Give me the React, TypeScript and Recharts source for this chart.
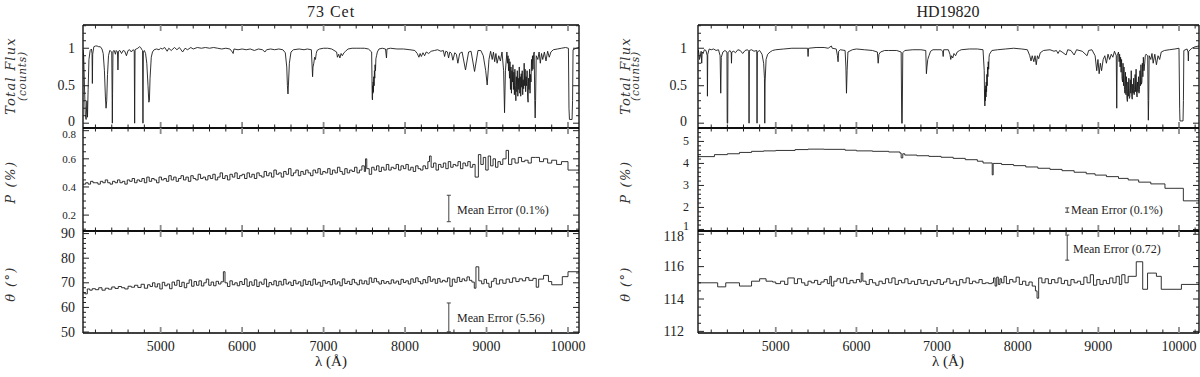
import { LineChart, Line, XAxis, YAxis, ReferenceLine } from "recharts";

type Pt = [number, number];

// ---- 73 Cet ----
const fluxCet: Pt[] = [
  [4047, 0.98], [4055, 0.9], [4065, 0.5], [4075, 0.12], [4085, 0.05], [4095, 0.3], [4102, 0.08], [4110, 0.45],
  [4120, 0.85], [4135, 0.97], [4150, 0.99], [4158, 0.93], [4162, 0.53], [4166, 0.92], [4180, 1.02], [4200, 1.03],
  [4220, 1.03], [4240, 1.02], [4260, 1.02], [4280, 0.99], [4295, 0.93], [4310, 0.7], [4322, 0.35], [4330, 0.2],
  [4338, 0.3], [4348, 0.65], [4360, 0.9], [4375, 0.97], [4390, 0.96], [4400, 0.95], [4405, 0.3], [4407, 0.0],
  [4410, 0.4], [4415, 0.96], [4430, 0.97], [4445, 0.92], [4455, 0.97], [4470, 0.95], [4476, 0.71], [4482, 0.96],
  [4500, 0.97], [4520, 0.93], [4540, 0.97], [4560, 0.96], [4580, 0.9], [4600, 0.97], [4620, 0.98], [4640, 0.95],
  [4660, 0.98], [4676, 0.97], [4681, 0.0], [4686, 0.98], [4700, 0.99], [4720, 1.0], [4740, 1.02], [4755, 1.01],
  [4770, 0.98], [4778, 0.97], [4783, 0.0], [4788, 0.95], [4800, 0.97], [4815, 0.93], [4830, 0.8], [4845, 0.5],
  [4855, 0.28], [4862, 0.3], [4870, 0.6], [4885, 0.88], [4900, 0.95], [4920, 0.98], [4950, 0.99], [4980, 0.98],
  [5000, 1.0], [5020, 0.99], [5050, 1.01], [5080, 0.96], [5100, 1.0], [5130, 0.97], [5170, 1.01], [5200, 0.98],
  [5230, 1.01], [5270, 0.95], [5300, 1.0], [5330, 0.98], [5370, 1.01], [5400, 0.99], [5450, 1.01], [5500, 1.0],
  [5550, 1.01], [5600, 1.0], [5650, 1.01], [5700, 1.0], [5750, 0.99], [5800, 1.0], [5850, 0.99], [5880, 0.95],
  [5890, 0.93], [5900, 0.99], [5950, 0.98], [6000, 0.99], [6050, 0.98], [6100, 0.99], [6150, 0.97], [6200, 0.99],
  [6250, 0.98], [6280, 0.95], [6300, 0.98], [6350, 0.99], [6400, 0.98], [6450, 0.99], [6500, 0.98], [6530, 0.94],
  [6548, 0.75], [6556, 0.5], [6563, 0.39], [6570, 0.55], [6580, 0.8], [6600, 0.95], [6630, 0.98], [6700, 0.99],
  [6760, 0.98], [6800, 0.99], [6850, 0.98], [6865, 0.62], [6870, 0.75], [6880, 0.8], [6890, 0.88], [6900, 0.85],
  [6910, 0.93], [6920, 0.97], [6950, 0.99], [7000, 1.0], [7050, 1.0], [7100, 0.99], [7160, 0.95], [7170, 0.88],
  [7185, 0.92], [7200, 0.87], [7215, 0.93], [7230, 0.9], [7250, 0.94], [7270, 0.96], [7300, 0.99], [7350, 1.0],
  [7400, 1.0], [7450, 1.0], [7500, 1.0], [7550, 0.99], [7590, 0.95], [7594, 0.6], [7597, 0.33], [7600, 0.31],
  [7603, 0.5], [7606, 0.4], [7609, 0.55], [7612, 0.42], [7616, 0.62], [7620, 0.5], [7624, 0.7], [7628, 0.6],
  [7632, 0.78], [7637, 0.7], [7642, 0.86], [7650, 0.9], [7660, 0.95], [7680, 0.99], [7720, 1.0], [7760, 0.99],
  [7772, 0.87], [7778, 0.99], [7820, 1.0], [7900, 0.99], [7980, 0.99], [8060, 0.98], [8120, 0.97], [8150, 0.93],
  [8170, 0.88], [8185, 0.93], [8200, 0.89], [8220, 0.94], [8240, 0.9], [8260, 0.95], [8290, 0.93], [8320, 0.96],
  [8360, 0.97], [8400, 0.98], [8440, 0.96], [8470, 0.97], [8485, 0.89], [8500, 0.96], [8520, 0.95], [8534, 0.87],
  [8550, 0.95], [8570, 0.93], [8587, 0.84], [8610, 0.94], [8630, 0.92], [8648, 0.8], [8670, 0.93], [8700, 0.95],
  [8742, 0.71], [8780, 0.95], [8810, 0.96], [8853, 0.69], [8895, 0.97], [8930, 0.97], [8960, 0.9], [8990, 0.7],
  [9008, 0.51], [9030, 0.85], [9050, 0.96], [9070, 0.85], [9085, 0.95], [9100, 0.82], [9115, 0.93], [9130, 0.8],
  [9150, 0.9], [9170, 0.83], [9190, 0.95], [9210, 0.7], [9221, 0.14], [9232, 0.7], [9250, 0.95], [9258, 0.8],
  [9264, 0.9], [9270, 0.7], [9276, 0.86], [9282, 0.6], [9288, 0.82], [9294, 0.45], [9300, 0.75], [9306, 0.4],
  [9312, 0.7], [9318, 0.55], [9324, 0.78], [9330, 0.45], [9336, 0.68], [9342, 0.38], [9348, 0.72], [9354, 0.5],
  [9360, 0.3], [9366, 0.62], [9372, 0.42], [9378, 0.7], [9384, 0.36], [9390, 0.6], [9396, 0.45], [9402, 0.75],
  [9408, 0.4], [9414, 0.62], [9420, 0.36], [9426, 0.66], [9432, 0.48], [9438, 0.7], [9444, 0.38], [9450, 0.58],
  [9456, 0.46], [9462, 0.8], [9468, 0.5], [9474, 0.72], [9480, 0.42], [9486, 0.62], [9492, 0.5], [9498, 0.7],
  [9504, 0.35], [9510, 0.28], [9516, 0.6], [9522, 0.45], [9528, 0.72], [9534, 0.4], [9540, 0.65], [9546, 0.55],
  [9552, 0.85], [9558, 0.7], [9564, 0.9], [9570, 0.72], [9578, 0.92], [9585, 0.95], [9592, 0.3], [9597, 0.07],
  [9602, 0.3], [9610, 0.9], [9630, 0.85], [9645, 0.95], [9660, 0.8], [9675, 0.93], [9690, 0.85], [9710, 0.95],
  [9730, 0.83], [9750, 0.96], [9770, 0.88], [9790, 0.95], [9820, 0.98], [9870, 0.99], [9920, 1.0], [9970, 1.01],
  [10005, 1.0], [10012, 0.2], [10018, 0.05], [10050, 0.05], [10056, 0.3], [10062, 0.98], [10100, 1.0], [10135, 1.01],
];

const polCet: Pt[] = [
  [4047, 0.42], [4080, 0.43], [4110, 0.42], [4140, 0.44], [4170, 0.43], [4200, 0.43], [4230, 0.42], [4260, 0.44],
  [4290, 0.43], [4320, 0.45], [4350, 0.43], [4380, 0.42], [4410, 0.44], [4440, 0.43], [4470, 0.45], [4500, 0.43],
  [4530, 0.44], [4560, 0.42], [4590, 0.45], [4620, 0.44], [4650, 0.46], [4680, 0.43], [4710, 0.45], [4740, 0.44],
  [4770, 0.46], [4800, 0.43], [4830, 0.47], [4860, 0.44], [4890, 0.46], [4920, 0.45], [4950, 0.43], [4980, 0.47],
  [5010, 0.45], [5040, 0.46], [5070, 0.44], [5100, 0.48], [5130, 0.45], [5160, 0.47], [5190, 0.44], [5220, 0.46],
  [5250, 0.48], [5280, 0.45], [5310, 0.47], [5340, 0.44], [5370, 0.48], [5400, 0.46], [5430, 0.45], [5460, 0.49],
  [5490, 0.46], [5520, 0.47], [5550, 0.45], [5580, 0.48], [5610, 0.46], [5640, 0.49], [5670, 0.45], [5700, 0.47],
  [5730, 0.5], [5760, 0.46], [5790, 0.48], [5820, 0.45], [5850, 0.49], [5880, 0.47], [5910, 0.5], [5940, 0.46],
  [5970, 0.48], [6000, 0.49], [6030, 0.46], [6060, 0.5], [6090, 0.47], [6120, 0.49], [6150, 0.46], [6180, 0.5],
  [6210, 0.48], [6240, 0.47], [6270, 0.51], [6300, 0.48], [6330, 0.5], [6360, 0.47], [6390, 0.52], [6420, 0.49],
  [6450, 0.5], [6480, 0.47], [6510, 0.51], [6540, 0.49], [6570, 0.53], [6600, 0.48], [6630, 0.5], [6660, 0.52],
  [6690, 0.48], [6720, 0.51], [6750, 0.49], [6780, 0.52], [6810, 0.5], [6840, 0.48], [6870, 0.52], [6900, 0.5],
  [6930, 0.53], [6960, 0.49], [6990, 0.51], [7020, 0.5], [7050, 0.53], [7080, 0.49], [7110, 0.52], [7140, 0.5],
  [7170, 0.54], [7200, 0.51], [7230, 0.49], [7260, 0.53], [7290, 0.5], [7320, 0.52], [7350, 0.51], [7380, 0.54],
  [7410, 0.5], [7440, 0.52], [7470, 0.55], [7500, 0.51], [7515, 0.6], [7530, 0.53], [7560, 0.49], [7590, 0.54],
  [7620, 0.52], [7650, 0.55], [7680, 0.51], [7710, 0.54], [7740, 0.52], [7770, 0.56], [7800, 0.52], [7830, 0.54],
  [7860, 0.53], [7890, 0.56], [7920, 0.52], [7950, 0.55], [7980, 0.53], [8010, 0.56], [8040, 0.52], [8070, 0.54],
  [8100, 0.51], [8130, 0.55], [8160, 0.53], [8190, 0.52], [8220, 0.55], [8250, 0.53], [8280, 0.58], [8300, 0.62],
  [8320, 0.54], [8350, 0.57], [8380, 0.52], [8410, 0.56], [8440, 0.54], [8470, 0.57], [8500, 0.53], [8530, 0.58],
  [8560, 0.54], [8590, 0.56], [8620, 0.55], [8650, 0.58], [8680, 0.53], [8710, 0.57], [8740, 0.55], [8770, 0.58],
  [8800, 0.54], [8830, 0.56], [8860, 0.47], [8900, 0.63], [8930, 0.56], [8960, 0.61], [8990, 0.52], [9020, 0.62],
  [9050, 0.55], [9080, 0.6], [9110, 0.54], [9140, 0.58], [9170, 0.56], [9200, 0.6], [9240, 0.66], [9270, 0.56],
  [9310, 0.6], [9350, 0.57], [9390, 0.61], [9430, 0.58], [9470, 0.59], [9510, 0.57], [9550, 0.61], [9600, 0.61],
  [9650, 0.58], [9700, 0.6], [9750, 0.57], [9800, 0.59], [9860, 0.56], [9920, 0.58], [10000, 0.52], [10135, 0.52],
];

const angCet: Pt[] = [
  [4047, 66], [4070, 65.5], [4100, 67.5], [4130, 67], [4160, 67.6], [4200, 67.2], [4240, 68], [4280, 67],
  [4320, 67.8], [4360, 67.4], [4400, 68.3], [4440, 67.7], [4480, 68.5], [4520, 68], [4560, 67.5], [4600, 68.6],
  [4640, 68.2], [4680, 69], [4720, 68.1], [4760, 69.4], [4800, 67.8], [4840, 69.2], [4870, 68.5], [4900, 70],
  [4930, 68.3], [4960, 69.6], [4990, 67.5], [5020, 70.2], [5050, 68.8], [5080, 69.5], [5110, 67.6], [5140, 70.3],
  [5170, 69], [5200, 71], [5230, 68.5], [5260, 70.2], [5290, 68], [5320, 69.8], [5350, 71.2], [5380, 68.6],
  [5410, 70.5], [5440, 69], [5470, 70.8], [5500, 68.7], [5530, 70], [5560, 71.5], [5590, 69], [5620, 70.3],
  [5650, 68.8], [5680, 70.6], [5710, 69.5], [5740, 70.4], [5770, 74.5], [5790, 70], [5820, 68.5], [5850, 70.8],
  [5880, 69.2], [5910, 70], [5940, 68.8], [5970, 70.5], [6000, 69.3], [6030, 71.6], [6060, 68.6], [6090, 70.4],
  [6120, 69], [6150, 71.2], [6180, 68.5], [6210, 70.3], [6240, 69.4], [6270, 71.5], [6300, 68.4], [6330, 70.1],
  [6360, 69.2], [6390, 70.8], [6420, 68.8], [6450, 70.6], [6480, 69.1], [6510, 71.4], [6540, 69.5], [6570, 70.3],
  [6600, 68.9], [6630, 71], [6660, 69.6], [6690, 70.4], [6720, 68.7], [6750, 71.2], [6780, 69.3], [6810, 70.6],
  [6840, 69], [6870, 71.5], [6900, 69.4], [6930, 70.2], [6960, 68.6], [6990, 71], [7020, 69.8], [7050, 70.5],
  [7080, 69.2], [7110, 71.3], [7140, 69.5], [7170, 70.4], [7200, 68.8], [7230, 71.6], [7260, 69.7], [7290, 70.6],
  [7320, 69.3], [7350, 71.4], [7380, 70], [7410, 69.2], [7440, 71.1], [7470, 69.6], [7500, 70.8], [7530, 69.4],
  [7560, 72], [7590, 70.2], [7620, 71.8], [7650, 70.4], [7680, 69.5], [7710, 70.9], [7740, 69.8], [7770, 70.5],
  [7800, 69.6], [7830, 71.2], [7860, 69.9], [7890, 70.7], [7920, 69.4], [7950, 71.4], [7980, 70.1], [8010, 70.8],
  [8040, 69.5], [8070, 71.6], [8100, 70.2], [8130, 72], [8160, 70.5], [8190, 69.6], [8220, 71.3], [8250, 70],
  [8280, 72.5], [8310, 70.6], [8340, 71.5], [8370, 69.8], [8400, 71.7], [8430, 70.3], [8460, 71], [8490, 70.4],
  [8520, 72], [8550, 68.6], [8580, 71.5], [8610, 70.2], [8640, 72.2], [8670, 70.5], [8700, 71.6], [8730, 70.8],
  [8760, 72.4], [8790, 71], [8820, 70.3], [8850, 67.8], [8870, 76.5], [8905, 70.8], [8940, 69.6], [8970, 71.4],
  [9000, 69.8], [9030, 68.2], [9060, 70.6], [9090, 71.8], [9120, 69.5], [9160, 71.2], [9200, 69.8], [9240, 71.5],
  [9280, 70.2], [9320, 72], [9360, 70.5], [9400, 71.6], [9440, 70.8], [9480, 72.1], [9520, 71], [9570, 71.8],
  [9610, 68.2], [9640, 71.5], [9700, 73], [9760, 70.5], [9800, 69.2], [9930, 72.5], [10000, 74.5], [10135, 74.5],
];

// ---- HD19820 ----
const fluxHd: Pt[] = [
  [4036, 0.98], [4045, 0.95], [4055, 0.85], [4065, 0.9], [4075, 0.96], [4082, 0.8], [4088, 0.95], [4100, 0.93],
  [4115, 0.98], [4135, 0.97], [4150, 0.9], [4153, 0.36], [4157, 0.92], [4175, 0.99], [4200, 0.98], [4230, 0.99],
  [4260, 0.97], [4290, 0.98], [4310, 0.9], [4318, 0.4], [4325, 0.88], [4345, 0.95], [4370, 0.97], [4395, 0.95],
  [4398, 0.0], [4404, 0.0], [4408, 0.94], [4430, 0.97], [4448, 0.94], [4451, 0.8], [4455, 0.95], [4480, 0.96],
  [4500, 0.94], [4530, 0.98], [4560, 0.97], [4590, 0.93], [4620, 0.97], [4650, 0.98], [4665, 0.96], [4669, 0.0],
  [4673, 0.97], [4700, 0.98], [4730, 0.96], [4765, 0.97], [4768, 0.0], [4772, 0.95], [4800, 0.97], [4830, 0.92],
  [4850, 0.8], [4860, 0.6], [4864, 0.0], [4868, 0.55], [4880, 0.85], [4900, 0.92], [4930, 0.95], [4960, 0.97],
  [5000, 0.98], [5100, 0.99], [5200, 1.0], [5300, 1.0], [5395, 1.0], [5401, 0.89], [5407, 1.0], [5500, 1.01],
  [5600, 1.01], [5650, 1.0], [5690, 1.03], [5700, 1.0], [5750, 0.99], [5765, 0.9], [5773, 0.82], [5780, 0.96],
  [5800, 0.98], [5860, 0.97], [5870, 0.75], [5877, 0.4], [5885, 0.7], [5895, 0.95], [5950, 0.98], [6000, 0.99],
  [6100, 0.98], [6200, 0.97], [6260, 0.95], [6270, 0.8], [6280, 0.92], [6300, 0.95], [6350, 0.97], [6400, 0.97],
  [6500, 0.97], [6555, 0.95], [6562, 0.0], [6568, 0.0], [6575, 0.94], [6600, 0.97], [6700, 0.98], [6800, 0.98],
  [6860, 0.97], [6868, 0.66], [6875, 0.75], [6885, 0.85], [6900, 0.9], [6920, 0.96], [6950, 0.98], [7000, 0.98],
  [7050, 0.98], [7070, 0.96], [7076, 0.89], [7082, 0.98], [7140, 0.98], [7160, 0.92], [7170, 0.85], [7180, 0.9],
  [7195, 0.87], [7210, 0.93], [7230, 0.9], [7250, 0.95], [7280, 0.97], [7300, 0.98], [7400, 0.99], [7500, 0.99],
  [7570, 0.98], [7585, 0.7], [7589, 0.35], [7593, 0.23], [7597, 0.45], [7600, 0.3], [7604, 0.5], [7607, 0.35],
  [7610, 0.55], [7614, 0.42], [7618, 0.65], [7622, 0.5], [7626, 0.75], [7630, 0.62], [7635, 0.82], [7640, 0.72],
  [7645, 0.88], [7650, 0.92], [7680, 0.97], [7750, 0.98], [7850, 0.99], [7950, 1.0], [8050, 0.99], [8120, 0.98],
  [8150, 0.9], [8165, 0.83], [8180, 0.9], [8200, 0.82], [8215, 0.9], [8230, 0.78], [8245, 0.9], [8260, 0.86],
  [8280, 0.94], [8320, 0.97], [8400, 0.98], [8450, 0.96], [8480, 0.97], [8500, 0.93], [8520, 0.97], [8550, 0.95],
  [8600, 0.91], [8620, 0.98], [8660, 0.97], [8700, 0.91], [8730, 0.98], [8800, 0.96], [8860, 0.9], [8880, 0.97],
  [8920, 0.98], [8960, 0.9], [8980, 0.7], [8995, 0.85], [9010, 0.66], [9025, 0.8], [9040, 0.7], [9060, 0.85],
  [9080, 0.9], [9100, 0.8], [9120, 0.92], [9140, 0.85], [9160, 0.92], [9180, 0.88], [9200, 0.96], [9222, 0.9],
  [9228, 0.2], [9234, 0.9], [9250, 0.95], [9258, 0.82], [9264, 0.92], [9270, 0.75], [9276, 0.88], [9282, 0.68],
  [9288, 0.85], [9294, 0.6], [9300, 0.55], [9306, 0.8], [9312, 0.5], [9318, 0.75], [9324, 0.45], [9330, 0.4],
  [9336, 0.68], [9342, 0.38], [9348, 0.62], [9354, 0.34], [9360, 0.29], [9366, 0.55], [9372, 0.36], [9378, 0.6],
  [9384, 0.33], [9390, 0.35], [9396, 0.58], [9402, 0.4], [9408, 0.7], [9414, 0.36], [9420, 0.32], [9426, 0.52],
  [9432, 0.4], [9438, 0.6], [9444, 0.38], [9450, 0.45], [9456, 0.65], [9462, 0.42], [9468, 0.72], [9474, 0.4],
  [9480, 0.35], [9486, 0.55], [9492, 0.42], [9498, 0.62], [9504, 0.4], [9510, 0.45], [9516, 0.7], [9522, 0.5],
  [9528, 0.78], [9534, 0.52], [9540, 0.55], [9546, 0.8], [9552, 0.62], [9558, 0.88], [9566, 0.7], [9575, 0.8],
  [9582, 0.9], [9590, 0.92], [9612, 0.9], [9617, 0.3], [9620, 0.04], [9624, 0.3], [9630, 0.9], [9650, 0.85],
  [9665, 0.93], [9680, 0.8], [9700, 0.92], [9720, 0.78], [9740, 0.9], [9760, 0.85], [9780, 0.95], [9820, 0.97],
  [9880, 0.98], [9950, 0.99], [10000, 1.0], [10008, 0.2], [10012, 0.03], [10050, 0.03], [10055, 0.3], [10060, 0.97],
  [10100, 0.99], [10112, 0.95], [10116, 0.83], [10120, 0.96], [10160, 1.0], [10200, 1.02], [10248, 1.03],
];

const polHd: Pt[] = [
  [4036, 4.31], [4240, 4.4], [4400, 4.44], [4550, 4.5], [4700, 4.55], [4850, 4.57], [5000, 4.59], [5240, 4.63],
  [5400, 4.65], [5600, 4.64], [5860, 4.6], [6000, 4.57], [6200, 4.55], [6400, 4.52], [6540, 4.47], [6555, 4.25],
  [6575, 4.44], [6600, 4.38], [6750, 4.35], [6900, 4.32], [7050, 4.28], [7200, 4.23], [7350, 4.17], [7500, 4.1],
  [7570, 4.02], [7684, 3.48], [7696, 4.0], [7800, 3.95], [7950, 3.9], [8100, 3.84], [8250, 3.78], [8400, 3.73],
  [8550, 3.67], [8700, 3.6], [8850, 3.53], [8960, 3.47], [9100, 3.4], [9250, 3.32], [9370, 3.25], [9500, 3.15],
  [9650, 3.07], [9826, 2.87], [10054, 2.3], [10248, 2.3],
];

const angHd: Pt[] = [
  [4036, 115.0], [4280, 114.75], [4380, 115.0], [4550, 114.8], [4700, 115.1], [4800, 115.25], [4880, 115.1],
  [4960, 115.05], [5000, 114.95], [5060, 115.1], [5110, 114.9], [5150, 115.3], [5230, 114.95], [5270, 115.25],
  [5320, 115.0], [5360, 114.85], [5400, 115.1], [5440, 115.0], [5480, 115.15], [5520, 114.9], [5560, 115.05],
  [5600, 115.2], [5640, 114.95], [5670, 115.4], [5690, 114.8], [5720, 115.1], [5760, 115.25], [5800, 115.0],
  [5840, 115.3], [5880, 114.95], [5920, 115.15], [5960, 115.0], [6000, 115.2], [6040, 115.05], [6060, 115.6],
  [6080, 115.1], [6120, 114.9], [6160, 115.2], [6200, 115.0], [6240, 114.85], [6280, 115.1], [6320, 114.95],
  [6360, 115.25], [6400, 115.0], [6440, 115.3], [6480, 114.9], [6520, 115.15], [6560, 115.0], [6600, 115.25],
  [6640, 114.95], [6680, 115.1], [6720, 114.9], [6760, 115.2], [6800, 114.95], [6840, 115.15], [6880, 114.85],
  [6920, 115.1], [6960, 114.95], [7000, 115.2], [7040, 114.9], [7080, 115.05], [7120, 115.25], [7160, 114.95],
  [7200, 115.1], [7240, 114.85], [7280, 115.2], [7320, 115.0], [7360, 115.3], [7400, 114.95], [7440, 115.1],
  [7480, 115.0], [7520, 115.2], [7560, 114.95], [7600, 115.0], [7640, 114.95], [7680, 115.0], [7700, 115.3],
  [7720, 114.8], [7740, 115.35], [7760, 114.9], [7780, 115.25], [7800, 115.0], [7830, 115.4], [7860, 114.95],
  [7900, 115.2], [7940, 115.05], [7980, 115.35], [8020, 114.9], [8060, 115.1], [8100, 114.85], [8140, 115.05],
  [8180, 114.8], [8220, 114.5], [8240, 114.05], [8260, 115.3], [8300, 115.0], [8340, 115.25], [8380, 114.95],
  [8420, 115.2], [8460, 115.0], [8500, 115.3], [8540, 114.95], [8580, 115.15], [8620, 114.85], [8660, 115.2],
  [8700, 115.0], [8740, 115.1], [8780, 114.9], [8820, 115.35], [8860, 115.0], [8900, 115.5], [8940, 114.85],
  [8980, 115.2], [9020, 114.9], [9060, 115.15], [9100, 114.95], [9140, 115.3], [9180, 115.0], [9220, 115.4],
  [9260, 114.9], [9290, 115.5], [9330, 115.0], [9370, 115.4], [9470, 116.3], [9550, 114.6], [9610, 115.6],
  [9720, 115.4], [9780, 114.6], [10030, 114.9], [10248, 114.9],
];

// ---- axes ----
const xTicksCet = [4200, 4400, 4600, 4800, 5000, 5200, 5400, 5600, 5800, 6000, 6200, 6400, 6600, 6800, 7000, 7200,
  7400, 7600, 7800, 8000, 8200, 8400, 8600, 8800, 9000, 9200, 9400, 9600, 9800, 10000];
const xTicksHd = [...xTicksCet, 10200];

const fluxTicks = [0, 0.1, 0.2, 0.3, 0.4, 0.5, 0.6, 0.7, 0.8, 0.9, 1, 1.1, 1.2, 1.3];
const fluxMajor = [0, 0.5, 1];
const polCetTicks = [0.1, 0.15, 0.2, 0.25, 0.3, 0.35, 0.4, 0.45, 0.5, 0.55, 0.6, 0.65, 0.7, 0.75, 0.8];
const polCetMajor = [0.2, 0.4, 0.6, 0.8];
const angCetTicks = [50, 52, 54, 56, 58, 60, 62, 64, 66, 68, 70, 72, 74, 76, 78, 80, 82, 84, 86, 88, 90];
const angCetMajor = [50, 60, 70, 80, 90];
const polHdTicks = [1, 1.2, 1.4, 1.6, 1.8, 2, 2.2, 2.4, 2.6, 2.8, 3, 3.2, 3.4, 3.6, 3.8, 4, 4.2, 4.4, 4.6, 4.8, 5, 5.2, 5.4];
const polHdMajor = [1, 2, 3, 4, 5];
const angHdTicks = [112, 112.5, 113, 113.5, 114, 114.5, 115, 115.5, 116, 116.5, 117, 117.5, 118];
const angHdMajor = [112, 114, 116, 118];

const FONT = "'Liberation Serif', 'DejaVu Serif', serif";
const LABEL_FONT = "'DejaVu Serif', serif";
const YW = 60;
const PAD = 6;
const MB = 26;
const frame = { stroke: "#000", strokeWidth: 1.3 };

const isMajor = (v: number, majors: number[]) => majors.some((m) => Math.abs(m - v) < 1e-6);

function XTick(props: any) {
  const { x, y, payload, edge, labels } = props;
  const v = payload.value as number;
  const major = v % 1000 === 0;
  const len = major ? 6 : 3.5;
  const dir = edge === "bottom" ? -1 : 1;
  return (
    <g>
      <line x1={x} x2={x} y1={y} y2={y + dir * len} stroke={major ? "#8a8a8a" : "#222"} strokeWidth={major ? 1.8 : 1} />
      {labels && major ? (
        <text x={x} y={y + 13} textAnchor="middle" dominantBaseline="central" fontSize={14} fill="#222" fontFamily={FONT}>
          {v}
        </text>
      ) : null}
    </g>
  );
}

function YTick(props: any) {
  const { x, y, payload, edge, majors, fontSize, gap, nudge } = props;
  const v = payload.value as number;
  const major = isMajor(v, majors);
  const len = major ? 6 : 3;
  const dir = edge === "left" ? 1 : -1;
  const dy = nudge && nudge[String(v)] ? nudge[String(v)] : 0;
  return (
    <g>
      <line x1={x} x2={x + dir * len} y1={y} y2={y} stroke="#222" strokeWidth={1} />
      {edge === "left" && major ? (
        <text x={x - gap} y={y + dy} textAnchor="end" dominantBaseline="central" fontSize={fontSize} fill="#222" fontFamily={FONT}>
          {v}
        </text>
      ) : null}
    </g>
  );
}

type Col = { left: number; width: number; domain: [number, number]; ticks: number[] };

const colCet: Col = { left: 83, width: 496, domain: [4047, 10135], ticks: xTicksCet };
const colHd: Col = { left: 698, width: 501, domain: [4036, 10248], ticks: xTicksHd };

type Err = { x: number; lo: number; hi: number; cap: number };

function Panel(p: {
  col: Col;
  top: number;
  height: number;
  data: Pt[];
  yDomain: [number, number];
  yTicks: number[];
  yMajor: number[];
  yFont: number;
  yGap: number;
  nudge?: Record<string, number>;
  stepped?: boolean;
  xLabels?: boolean;
  err?: Err;
}) {
  const rows = p.data.map(([w, v]) => ({ w, v }));
  const { col, err } = p;
  return (
    <div style={{ position: "absolute", left: col.left - YW, top: p.top - PAD - 1 }}>
      <LineChart
        width={YW + col.width + 1 + PAD}
        height={PAD + 1 + p.height + 1 + MB}
        data={rows}
        margin={{ top: PAD, right: PAD, bottom: MB, left: 0 }}
      >
        <XAxis
          xAxisId="b"
          dataKey="w"
          type="number"
          domain={col.domain}
          allowDataOverflow
          ticks={col.ticks}
          interval={0}
          height={1}
          tickLine={false}
          tickSize={0}
          tickMargin={0}
          axisLine={frame}
          tick={(t: any) => <XTick {...t} edge="bottom" labels={p.xLabels} />}
        />
        <XAxis
          xAxisId="t"
          orientation="top"
          dataKey="w"
          type="number"
          domain={col.domain}
          allowDataOverflow
          ticks={col.ticks}
          interval={0}
          height={1}
          tickLine={false}
          tickSize={0}
          tickMargin={0}
          axisLine={frame}
          tick={(t: any) => <XTick {...t} edge="top" />}
        />
        <YAxis
          yAxisId="l"
          type="number"
          domain={p.yDomain}
          allowDataOverflow
          ticks={p.yTicks}
          interval={0}
          width={YW}
          tickLine={false}
          tickSize={0}
          tickMargin={0}
          axisLine={frame}
          tick={(t: any) => <YTick {...t} edge="left" majors={p.yMajor} fontSize={p.yFont} gap={p.yGap} nudge={p.nudge} />}
        />
        <YAxis
          yAxisId="r"
          orientation="right"
          type="number"
          domain={p.yDomain}
          allowDataOverflow
          ticks={p.yTicks}
          interval={0}
          width={1}
          tickLine={false}
          tickSize={0}
          tickMargin={0}
          axisLine={frame}
          tick={(t: any) => <YTick {...t} edge="right" majors={p.yMajor} />}
        />
        <Line
          xAxisId="b"
          yAxisId="l"
          dataKey="v"
          type={p.stepped ? "stepAfter" : "linear"}
          dot={false}
          stroke="#1c1c1c"
          strokeWidth={0.9}
          isAnimationActive={false}
        />
        <Line xAxisId="t" yAxisId="r" dataKey="v" dot={false} stroke="none" isAnimationActive={false} />
        {err ? (
          <>
            <ReferenceLine xAxisId="b" yAxisId="l" segment={[{ x: err.x, y: err.lo }, { x: err.x, y: err.hi }]} stroke="#444" />
            <ReferenceLine xAxisId="b" yAxisId="l" segment={[{ x: err.x - err.cap, y: err.lo }, { x: err.x + err.cap, y: err.lo }]} stroke="#444" />
            <ReferenceLine xAxisId="b" yAxisId="l" segment={[{ x: err.x - err.cap, y: err.hi }, { x: err.x + err.cap, y: err.hi }]} stroke="#444" />
          </>
        ) : null}
      </LineChart>
    </div>
  );
}

function Txt({ x, y, children, size = 12, anchor = "middle", spacing = 0 }: any) {
  const tx = anchor === "middle" ? "-50%" : "0";
  return (
    <div
      style={{
        position: "absolute",
        left: x,
        top: y,
        transform: `translate(${tx}, -50%)`,
        whiteSpace: "nowrap",
        fontFamily: FONT,
        fontSize: size,
        letterSpacing: spacing,
        color: "#222",
        lineHeight: 1,
      }}
    >
      {children}
    </div>
  );
}

function VLabel({ x, y, children, size = 13, spacing = 1.2 }: any) {
  return (
    <div
      style={{
        position: "absolute",
        left: x,
        top: y,
        transform: "translate(-50%, -50%) rotate(-90deg)",
        whiteSpace: "nowrap",
        fontFamily: LABEL_FONT,
        fontStyle: "italic",
        fontSize: size,
        letterSpacing: spacing,
        color: "#333",
        lineHeight: 1,
      }}
    >
      {children}
    </div>
  );
}

export default function App() {
  return (
    <div style={{ position: "absolute", left: 0, top: 0, width: 1200, height: 377, background: "#fff", overflow: "hidden" }}>
      {/* 73 Cet */}
      <Panel col={colCet} top={25} height={103} data={fluxCet} yDomain={[-0.064, 1.31]} yTicks={fluxTicks} yMajor={fluxMajor} yFont={14} yGap={8} nudge={{ "0": -2 }} />
      <Panel col={colCet} top={128} height={103} data={polCet} yDomain={[0.087, 0.819]} yTicks={polCetTicks} yMajor={polCetMajor} yFont={11} yGap={7} nudge={{ "0.8": 3 }} stepped err={{ x: 8537, lo: 0.153, hi: 0.341, cap: 25 }} />
      <Panel col={colCet} top={231} height={102} data={angCet} yDomain={[49.6, 91.05]} yTicks={angCetTicks} yMajor={angCetMajor} yFont={14} yGap={8} stepped xLabels err={{ x: 8537, lo: 50.1, hi: 61.8, cap: 25 }} />

      {/* HD19820 */}
      <Panel col={colHd} top={25} height={103} data={fluxHd} yDomain={[-0.064, 1.31]} yTicks={fluxTicks} yMajor={fluxMajor} yFont={14} yGap={11} nudge={{ "0": -2 }} />
      <Panel col={colHd} top={128} height={103} data={polHd} yDomain={[0.93, 5.61]} yTicks={polHdTicks} yMajor={polHdMajor} yFont={12} yGap={9} nudge={{ "1": -3 }} stepped err={{ x: 8614, lo: 1.78, hi: 1.98, cap: 25 }} />
      <Panel col={colHd} top={231} height={102} data={angHd} yDomain={[111.9, 118.2]} yTicks={angHdTicks} yMajor={angHdMajor} yFont={14} yGap={14} nudge={{ "118": 2 }} stepped xLabels err={{ x: 8614, lo: 116.4, hi: 117.95, cap: 25 }} />

      <Txt x={331} y={12} size={16} spacing={1}>73 Cet</Txt>
      <Txt x={948} y={12} size={16}>HD19820</Txt>
      <Txt x={331} y={361} size={15}>λ (Å)</Txt>
      <Txt x={948} y={361} size={15}>λ (Å)</Txt>

      <VLabel x={10} y={76}>Total Flux</VLabel>
      <VLabel x={22} y={76} size={10.5} spacing={0.8}>(counts)</VLabel>
      <VLabel x={10} y={182} spacing={1.6}>P (%)</VLabel>
      <VLabel x={10} y={284} spacing={1.4}>θ (°)</VLabel>

      <VLabel x={625} y={76}>Total Flux</VLabel>
      <VLabel x={635} y={76} size={10.5} spacing={0.8}>(counts)</VLabel>
      <VLabel x={625} y={182} spacing={1.6}>P (%)</VLabel>
      <VLabel x={625} y={284} spacing={1.4}>θ (°)</VLabel>

      <Txt x={457} y={210} anchor="start">Mean Error (0.1%)</Txt>
      <Txt x={457} y={318} anchor="start">Mean Error (5.56)</Txt>
      <Txt x={1071} y={210} anchor="start">Mean Error (0.1%)</Txt>
      <Txt x={1073} y={249} anchor="start">Mean Error (0.72)</Txt>
    </div>
  );
}
